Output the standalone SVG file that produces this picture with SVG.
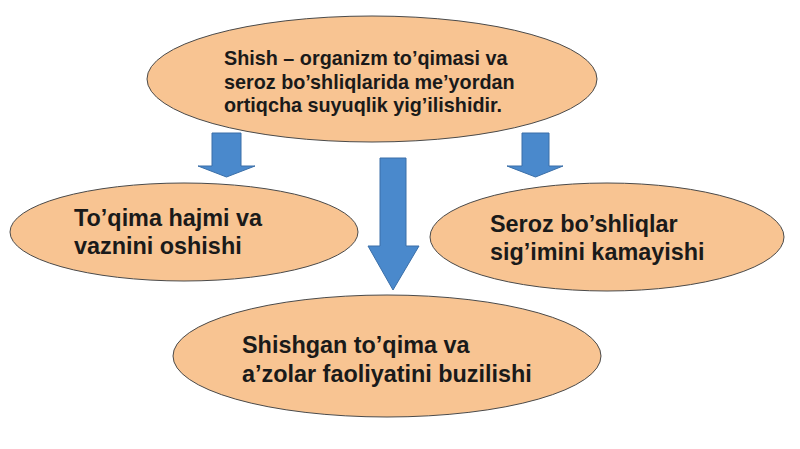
<svg xmlns="http://www.w3.org/2000/svg" width="800" height="449" viewBox="0 0 800 449">
<style>
.node{fill:#f8c492;stroke:#4a4a4a;stroke-width:1}
.arr{fill:#4a89cc;stroke:#3b6fa8;stroke-width:1}
text{font-family:"Liberation Sans",Arial,sans-serif;font-weight:bold;fill:#1a1a1a}
.t1{font-size:19.8px}
.t2{font-size:23.4px}
</style>
<rect width="800" height="449" fill="#ffffff"/>
<g id="connectors">
<path class="arr" d="M212,133 H241 V166 H255 L226.5,177 L198,166 H212 Z"/>
<path class="arr" d="M380,158 H406 V246 H419 L393,290 L368,246 H380 Z"/>
<path class="arr" d="M522,133 H549 V166 H563 L535.5,177 L507,166 H522 Z"/>
</g>
<g id="node-top">
<ellipse class="node" cx="372" cy="79" rx="225" ry="63"/>
<text class="t1" x="224" y="65">Shish – organizm to’qimasi va</text>
<text class="t1" x="224" y="89">seroz bo’shliqlarida me’yordan</text>
<text class="t1" x="224" y="112">ortiqcha suyuqlik yig’ilishidir.</text>
</g>
<g id="node-left">
<ellipse class="node" cx="184" cy="232" rx="174" ry="49"/>
<text class="t2" x="74" y="226">To’qima hajmi va</text>
<text class="t2" x="74" y="254">vaznini oshishi</text>
</g>
<g id="node-right">
<ellipse class="node" cx="607" cy="237" rx="177" ry="54"/>
<text class="t2" x="490" y="232">Seroz bo’shliqlar</text>
<text class="t2" x="490" y="260">sig’imini kamayishi</text>
</g>
<g id="node-bottom">
<ellipse class="node" cx="387" cy="356" rx="214" ry="61"/>
<text class="t2" x="242" y="353">Shishgan to’qima va</text>
<text class="t2" x="242" y="382">a’zolar faoliyatini buzilishi</text>
</g>
</svg>
